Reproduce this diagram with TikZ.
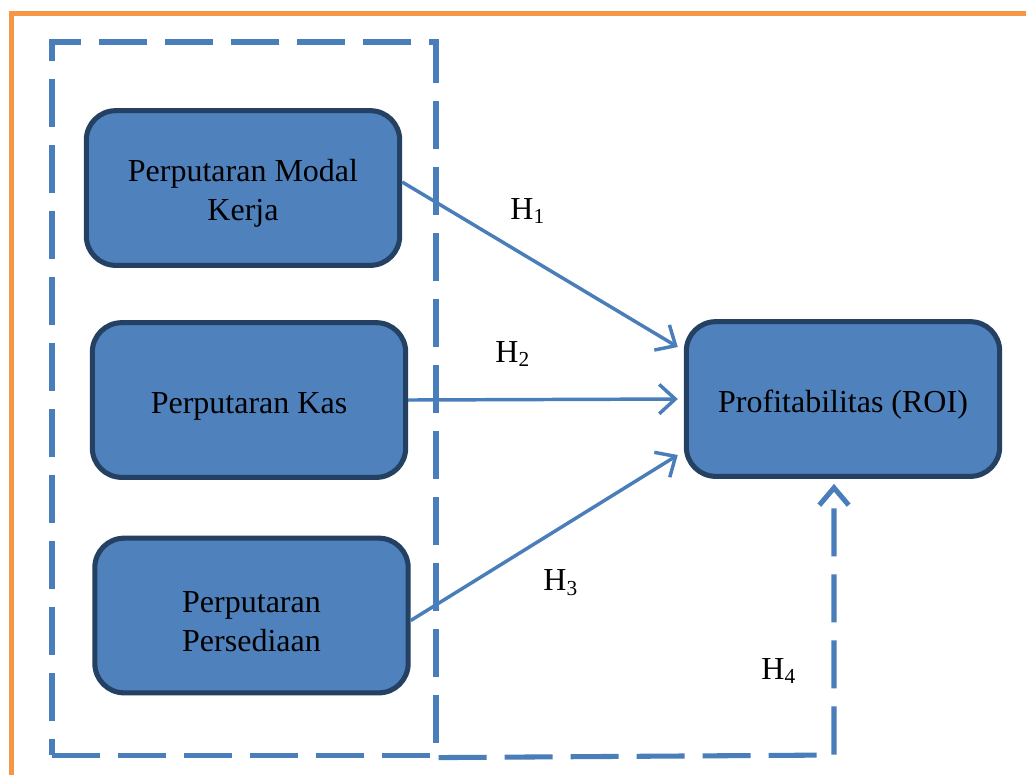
\documentclass[tikz,border=0pt]{standalone}
\usepackage{fontspec}
\setmainfont{Liberation Serif}
\usetikzlibrary{positioning}
\usetikzlibrary{calc}
\usetikzlibrary{arrows.meta}
\definecolor{mblue}{RGB}{79,129,189}
\definecolor{mnavy}{RGB}{36,64,98}
\definecolor{mline}{RGB}{74,126,187}
\definecolor{morange}{RGB}{247,150,70}
\newcommand{\mstrut}{\rule{0pt}{12.3pt}}

\begin{document}
\begin{tikzpicture}[x=0.375pt, y=-0.375pt,
    module/.style={draw=mnavy, fill=mblue, line width=1.9pt, rounded corners=11pt,
        minimum width=117.5pt, minimum height=58pt, inner sep=0pt, align=center,
        font=\fontsize{12}{14.5}\selectfont},
    arrow/.style={-{Straight Barb[length=6pt, width=11pt, line width=1.3pt]}, draw=mline, line width=1.3pt},
    group/.style={draw=mline, line width=1.9pt, dash pattern=on 18pt off 6.75pt},
    hyp/.style={font=\fontsize{12}{14.5}\selectfont},
]
    \useasboundingbox (0,0) rectangle (1026,774);
    \clip (0,0) rectangle (1026,774);
    \fill[white] (0,0) rectangle (1026,774);
    \draw[morange, line width=1.9pt] (11.5,13.5) rectangle (1060,800);

    \node[group, minimum width=144pt, minimum height=267.4pt] (grp) at (244,398.5) {};

    \node[module] (m1) at (243,188) {\mstrut Perputaran Modal\\Kerja};
    \node[module] (m2) at (249,400) {\mstrut Perputaran Kas};
    \node[module] (m3) at (251.5,615.5) {\mstrut Perputaran\\Persediaan};
    \node[module] (roi) at (843,399) {\mstrut Profitabilitas (ROI)};

    \draw[arrow] ($(m1.east)+(0,-6)$) -- ($(roi.west)+(-6,-52)$);
    \draw[arrow] (m2.east) -- ($(roi.west)+(-6,0)$);
    \draw[arrow] ($(m3.east)+(0,5)$) -- ($(roi.west)+(-6,56)$);

    \coordinate (h4corner) at (834,755);
    \draw[group, -{Straight Barb[length=6.5pt, width=11pt, line width=1.9pt]}]
        (grp.south east) -- (h4corner) -- ($(h4corner |- roi.south)+(0,5)$);

    \node[hyp] (h1) at (528,211) {H\textsubscript{1}};
    \node[hyp] (h2) at (513,354) {H\textsubscript{2}};
    \node[hyp] (h3) at (561,583) {H\textsubscript{3}};
    \node[hyp] (h4) at (779,671) {H\textsubscript{4}};

\end{tikzpicture}
\end{document}
